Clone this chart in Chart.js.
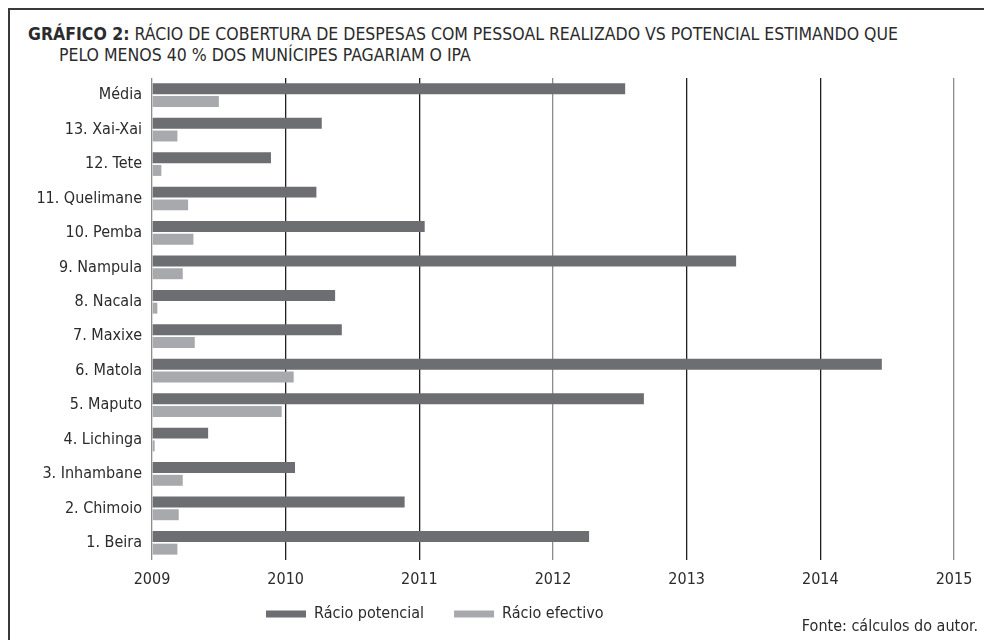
<!DOCTYPE html>
<html>
<head>
<meta charset="utf-8">
<script src="https://cdn.jsdelivr.net/npm/chart.js@4"></script>
<style>
    body { margin: 0; background: #fff; font-family: "Liberation Sans Narrow", "DejaVu Sans Condensed", sans-serif; color: #2b2b2b; }
    #frame { position: absolute; left: 8px; top: 8px; width: 976px; height: 632px; border-top: 2px solid #3a3a3a; border-left: 2px solid #3a3a3a; }
    #title { position: absolute; left: 28px; top: 24px; font-size: 17.5px; line-height: 21px; }
    #title b { font-weight: bold; }
    #title .l2 { padding-left: 31px; }
    #source { position: absolute; right: 6px; top: 616px; font-size: 16px; }
    #wrap { position: absolute; left: 0; top: 70px; width: 984px; height: 570px; }
</style>
</head>
<body>
<div id="frame"></div>
<div id="title"><b>GRÁFICO 2:</b> RÁCIO DE COBERTURA DE DESPESAS COM PESSOAL REALIZADO VS POTENCIAL ESTIMANDO QUE<br><span class="l2">PELO MENOS 40 % DOS MUNÍCIPES PAGARIAM O IPA</span></div>
<div id="wrap"><canvas id="chart"></canvas></div>
<div id="source">Fonte: cálculos do autor.</div>
<script>
const municipios = ["Média", "13. Xai-Xai", "12. Tete", "11. Quelimane", "10. Pemba", "9. Nampula", "8. Nacala",
    "7. Maxixe", "6. Matola", "5. Maputo", "4. Lichinga", "3. Inhambane", "2. Chimoio", "1. Beira"];
const racioPotencial = [2012.54, 2010.27, 2009.89, 2010.23, 2011.04, 2013.37, 2010.37,
    2010.42, 2014.46, 2012.68, 2009.42, 2010.07, 2010.89, 2012.27];
const racioEfectivo = [2009.50, 2009.19, 2009.07, 2009.27, 2009.31, 2009.23, 2009.04,
    2009.32, 2010.06, 2009.97, 2009.02, 2009.23, 2009.20, 2009.19];
const xMin = 2009;
const xMax = 2015;

Chart.defaults.font.family = '"Liberation Sans Narrow", "DejaVu Sans Condensed", sans-serif';
Chart.defaults.color = "#2b2b2b";

// move the legend to where the original one sits (left of centre, closer to the axis)
const legendShift = {
    id: "legendShift",
    afterLayout(chart) {
        const lg = chart.legend;
        if (!lg || !lg.lineWidths) return;
        const pad = lg.options.labels.padding;
        const start = (lg.left + pad + lg.right - lg.lineWidths[0]) / 2;
        const shift = 266 - start;
        lg.left += shift;
        lg.right += shift;
        lg.top -= 15;
        lg.bottom -= 15;
    }
};

new Chart(document.getElementById("chart"), {
    type: "bar",
    data: {
        labels: municipios,
        datasets: [
            {
                label: "Rácio potencial",
                data: racioPotencial,
                base: xMin,
                backgroundColor: "#6d6e71",
                categoryPercentage: 0.74,
                barPercentage: 0.86
            },
            {
                label: "Rácio efectivo",
                data: racioEfectivo,
                base: xMin,
                backgroundColor: "#a7a9ac",
                categoryPercentage: 0.74,
                barPercentage: 0.86
            }
        ]
    },
    options: {
        indexAxis: "y",
        responsive: true,
        maintainAspectRatio: false,
        animation: false,
        layout: { padding: { left: 0, right: 30, top: 8, bottom: -7 } },
        scales: {
            x: {
                min: xMin,
                max: xMax,
                afterFit: s => { s.height = 31; },
                ticks: { stepSize: 1, padding: 10, font: { size: 16 }, callback: v => String(v) },
                grid: {
                    drawTicks: false,
                    lineWidth: 1.3,
                    color: c => (c.tick && (c.tick.value === 2009 || c.tick.value === 2012 || c.tick.value === 2015)) ? "#8c8c8c" : "#231f20"
                },
                border: { display: false }
            },
            y: {
                afterFit: s => { s.width = 152; s.paddingTop = 0; s.paddingBottom = 0; },
                ticks: { padding: 10, font: { size: 16 } },
                grid: { display: false, drawTicks: false },
                border: { display: false }
            }
        },
        plugins: {
            legend: {
                position: "bottom",
                labels: { boxWidth: 40, boxHeight: 7, padding: 30, font: { size: 16 }, color: "#2b2b2b" }
            },
            tooltip: { enabled: false }
        }
    },
    plugins: [legendShift]
});
</script>
</body>
</html>
